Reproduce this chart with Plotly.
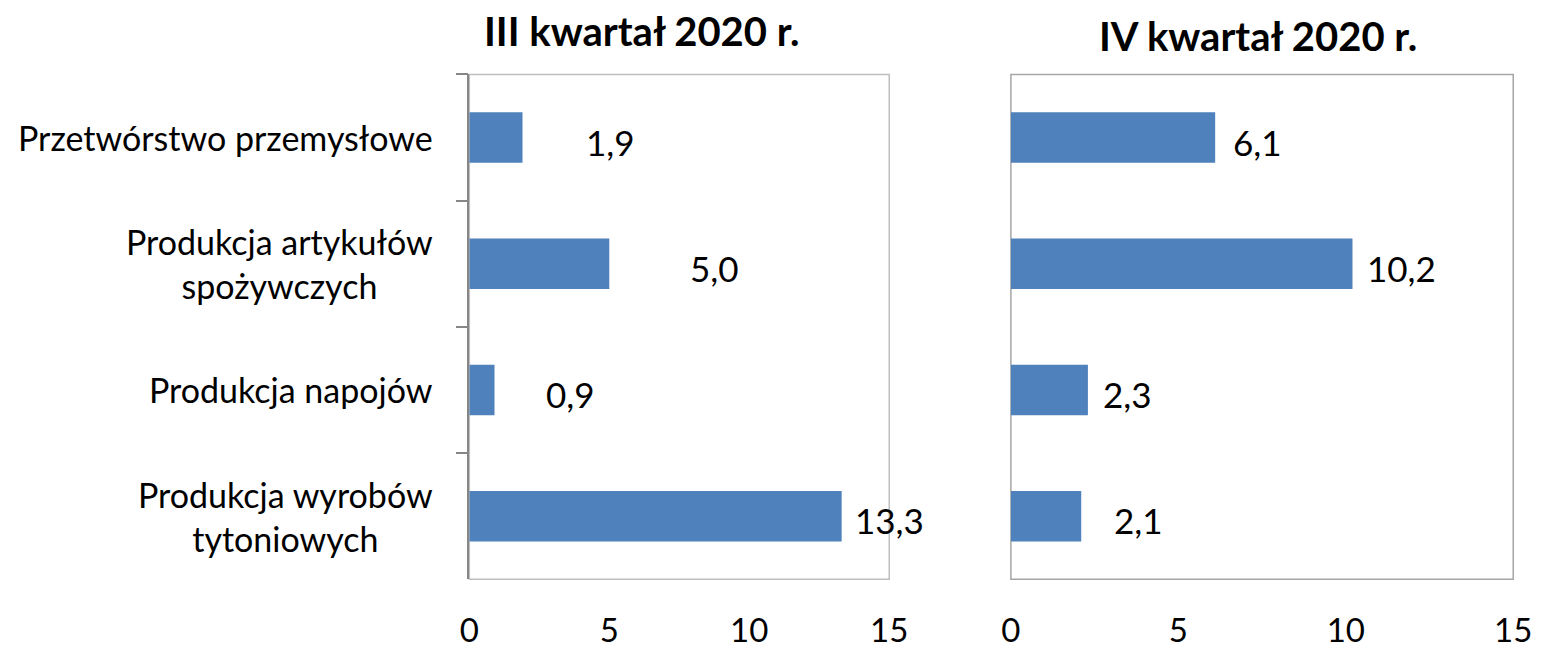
import plotly.graph_objects as go

categories = ["Przetwórstwo przemysłowe", "Produkcja artykułów spożywczych",
              "Produkcja napojów", "Produkcja wyrobów tytoniowych"]
category_labels = ["Przetwórstwo przemysłowe", "Produkcja artykułów<br>spożywczych",
                   "Produkcja napojów", "Produkcja wyrobów<br>tytoniowych"]
q3_values = [1.9, 5.0, 0.9, 13.3]
q4_values = [6.1, 10.2, 2.3, 2.1]
titles = ["III kwartał 2020 r.", "IV kwartał 2020 r."]
x_ticks = [0, 5, 10, 15]

# label offsets (px) from bar end, styling only
q3_label_gap = [61, 79, 49, 11]
q4_label_gap = [16, 13, 13, 31]

# page has an 8px body margin; size the figure so it fits the 1552x657 window
OFF = 8
W, H = 1552 - 2 * OFF, 657 - 2 * OFF
FONT = "Lato"
BAR = "#4F81BD"

def px_x(a, b):
    return [(a - OFF) / W, (b - OFF) / W]

def px_y(top, bottom):
    return [1 - (bottom - OFF) / H, 1 - (top - OFF) / H]

def pxx(a):
    return (a - OFF) / W

def pxy(a):
    return 1 - (a - OFF) / H

fig = go.Figure()
fig.add_trace(go.Bar(y=categories, x=q3_values, orientation="h", marker_color=BAR,
                     marker_line_width=0, xaxis="x", yaxis="y", showlegend=False))
fig.add_trace(go.Bar(y=categories, x=q4_values, orientation="h", marker_color=BAR,
                     marker_line_width=0, xaxis="x2", yaxis="y2", showlegend=False))

ydom = px_y(76, 593)
xaxis_common = dict(range=[0, 15], tickvals=x_ticks, ticktext=[str(t) for t in x_ticks],
                    showgrid=False, zeroline=False, showline=False, ticks="",
                    tickfont=dict(family=FONT, size=33, color="#000000"),
                    ticklabelstandoff=29, fixedrange=True)
fig.update_layout(
    width=W, height=H, margin=dict(l=0, r=0, t=0, b=0),
    paper_bgcolor="white", plot_bgcolor="white", bargap=0.6,
    xaxis=dict(domain=px_x(468, 896), anchor="y", **xaxis_common),
    xaxis2=dict(domain=px_x(1020, 1532), anchor="y2", **xaxis_common),
    yaxis=dict(domain=ydom, anchor="x", autorange="reversed", showticklabels=False,
               ticks="outside", tickson="boundaries", ticklen=12, tickcolor="#868686",
               tickwidth=1.5, showgrid=False, zeroline=False,
               showline=True, linecolor="#868686", linewidth=1.5),
    yaxis2=dict(domain=ydom, anchor="x2", autorange="reversed", showticklabels=False,
                ticks="", showgrid=False, zeroline=False, showline=False),
)

# plot borders
for xr, yr, col in [("x domain", "y domain", "#BFBFBF"), ("x2 domain", "y2 domain", "#A6A6A6")]:
    fig.add_shape(type="rect", xref=xr, yref=yr, x0=0, x1=1, y0=0, y1=1,
                  line=dict(color=col, width=1.5), layer="below")

annotations = []
for i, c in enumerate(categories):
    annotations.append(dict(x=0, y=c, xref="x", yref="y", xanchor="right", yanchor="middle",
                            xshift=-34, text=category_labels[i], showarrow=False, align="center",
                            font=dict(family=FONT, size=34, color="#000000")))
    annotations.append(dict(x=q3_values[i], y=c, xref="x", yref="y", xanchor="left",
                            yanchor="middle", xshift=q3_label_gap[i], yshift=-4,
                            text=f"{q3_values[i]:.1f}".replace(".", ","), showarrow=False,
                            font=dict(family=FONT, size=35, color="#000000")))
    annotations.append(dict(x=q4_values[i], y=c, xref="x2", yref="y2", xanchor="left",
                            yanchor="middle", xshift=q4_label_gap[i], yshift=-4,
                            text=f"{q4_values[i]:.1f}".replace(".", ","), showarrow=False,
                            font=dict(family=FONT, size=35, color="#000000")))

annotations.append(dict(x=pxx(644), y=pxy(32), xref="paper", yref="paper", xanchor="center",
                        yanchor="middle", text=f"<b>{titles[0]}</b>", showarrow=False,
                        font=dict(family=FONT, size=40, color="#000000")))
annotations.append(dict(x=pxx(1272), y=pxy(37), xref="paper", yref="paper", xanchor="center",
                        yanchor="middle", text=f"<b>{titles[1]}</b>", showarrow=False,
                        font=dict(family=FONT, size=40, color="#000000")))
fig.update_layout(annotations=annotations)

fig.write_html("out.html")
